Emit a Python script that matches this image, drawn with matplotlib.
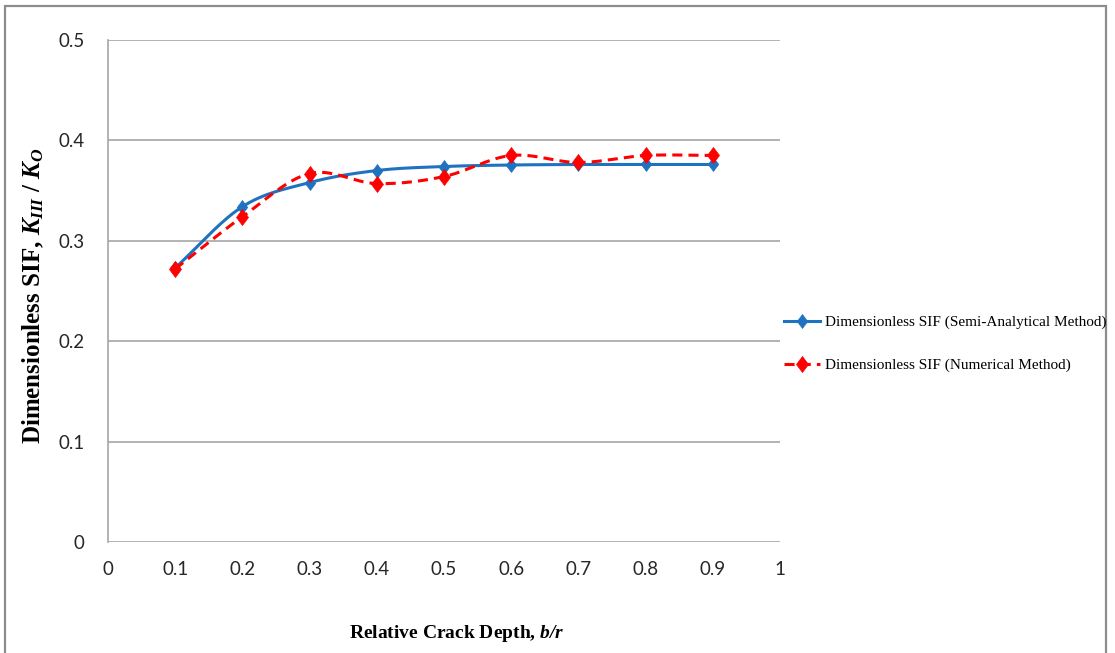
import numpy as np
import matplotlib
matplotlib.use("Agg")
import matplotlib.pyplot as plt
from matplotlib.lines import Line2D
from matplotlib.patches import Rectangle

# Relative crack depth b/r
crack_depth = [0.1, 0.2, 0.3, 0.4, 0.5, 0.6, 0.7, 0.8, 0.9]
# Dimensionless SIF K_III / K_O
sif_semi_analytical = [0.273, 0.334, 0.358, 0.370, 0.374, 0.3755, 0.376, 0.376, 0.376]
sif_numerical = [0.272, 0.324, 0.367, 0.357, 0.364, 0.385, 0.378, 0.385, 0.385]

x_ticks = [0, 0.1, 0.2, 0.3, 0.4, 0.5, 0.6, 0.7, 0.8, 0.9, 1]
x_tick_labels = ["0", "0.1", "0.2", "0.3", "0.4", "0.5", "0.6", "0.7", "0.8", "0.9", "1"]
y_ticks = [0, 0.1, 0.2, 0.3, 0.4, 0.5]
y_tick_labels = ["0", "0.1", "0.2", "0.3", "0.4", "0.5"]

series_labels = ["Dimensionless SIF (Semi-Analytical Method)",
                 "Dimensionless SIF (Numerical Method)"]


def smooth_curve(xs, ys, n=30):
    """Catmull-Rom curve through the points, like a spreadsheet's smoothed line."""
    xs = np.asarray(xs, float)
    ys = np.asarray(ys, float)
    px = np.concatenate([[2 * xs[0] - xs[1]], xs, [2 * xs[-1] - xs[-2]]])
    py = np.concatenate([[2 * ys[0] - ys[1]], ys, [2 * ys[-1] - ys[-2]]])
    out_x, out_y = [], []
    t = np.linspace(0, 1, n, endpoint=False)
    for i in range(1, len(px) - 2):
        for arr, out in ((px, out_x), (py, out_y)):
            p0, p1, p2, p3 = arr[i - 1], arr[i], arr[i + 1], arr[i + 2]
            seg = 0.5 * ((2 * p1) + (-p0 + p2) * t
                         + (2 * p0 - 5 * p1 + 4 * p2 - p3) * t ** 2
                         + (-p0 + 3 * p1 - 3 * p2 + p3) * t ** 3)
            out.extend(seg)
    out_x.append(xs[-1])
    out_y.append(ys[-1])
    return np.array(out_x), np.array(out_y)


plt.rcParams["mathtext.fontset"] = "custom"
plt.rcParams["mathtext.rm"] = "Liberation Serif:bold"
plt.rcParams["mathtext.it"] = "Liberation Serif:italic"
plt.rcParams["mathtext.bf"] = "Liberation Serif:bold"
plt.rcParams["mathtext.bfit"] = "Liberation Serif:bold:italic"

# slightly narrow diamond marker
diamond = [(0, 1), (0.75, 0), (0, -1), (-0.75, 0), (0, 1)]

fig = plt.figure(figsize=(11.15, 6.53), dpi=100)
fig.patches.append(Rectangle((5 / 1115, -0.01), 1101 / 1115, 1.01 - 6 / 653,
                             transform=fig.transFigure, fill=False,
                             edgecolor="#8c8c8c", linewidth=1.6))

ax = fig.add_axes([108 / 1115, 1 - 542 / 653, 672 / 1115, 502 / 653])

blue = "#1f72c0"
red = "#ff0000"
blue_style = dict(color=blue, linewidth=2.2)
red_style = dict(color=red, linewidth=2.2, linestyle=(0, (3.3, 2.0)))

sx, sy = smooth_curve(crack_depth, sif_semi_analytical)
ax.plot(sx, sy, zorder=3, **blue_style)
ax.plot(crack_depth, sif_semi_analytical, linestyle="none", marker=diamond,
        markersize=10, markeredgewidth=0.5, color=blue, zorder=4)

nx, ny = smooth_curve(crack_depth, sif_numerical)
ax.plot(nx, ny, zorder=5, **red_style)
ax.plot(crack_depth, sif_numerical, linestyle="none", marker=diamond,
        markersize=11.5, markeredgewidth=0.5, color=red, zorder=6)

ax.set_xlim(0, 1)
ax.set_ylim(0, 0.5)
ax.set_xticks(x_ticks)
ax.set_xticklabels(x_tick_labels)
ax.set_yticks(y_ticks)
ax.set_yticklabels(y_tick_labels)
ax.tick_params(axis="both", length=0, labelsize=13.5, colors="#262626")
ax.tick_params(axis="x", pad=14)
ax.tick_params(axis="y", pad=17)
for lab in ax.get_xticklabels() + ax.get_yticklabels():
    lab.set_fontfamily("Lato")

ax.grid(axis="y", color="#a6a6a6", linewidth=1.2)
ax.set_axisbelow(True)
for side in ("top", "right", "bottom"):
    ax.spines[side].set_visible(False)
ax.spines["left"].set_color("#a6a6a6")
ax.spines["left"].set_linewidth(1.2)

# axis titles
fig.text(457 / 1115, 1 - 633 / 653, r"Relative Crack Depth, $\mathbfit{b/r}$",
         fontsize=14, fontweight="bold", family="Liberation Serif",
         ha="center", va="center")
fig.text(33 / 1115, 1 - 296 / 653,
         r"Dimensionless SIF, $\mathbfit{K}_{\mathbfit{III}}$ / $\mathbfit{K}_{\mathbfit{O}}$",
         fontsize=18, fontweight="bold", family="Liberation Serif",
         rotation=90, ha="center", va="center")

handles = [
    Line2D([], [], marker=diamond, markersize=10, markeredgewidth=0.5, **blue_style),
    Line2D([], [], marker=diamond, markersize=11.5, markeredgewidth=0.5, **red_style),
]
leg = fig.legend(handles, series_labels, loc="center left",
                 bbox_to_anchor=(770 / 1115, 1 - 344 / 653), frameon=False,
                 prop={"family": "Liberation Serif", "size": 11},
                 handlelength=2.4, handletextpad=0.3, labelspacing=1.9)

fig.savefig("out.png", dpi=100, facecolor="white")
